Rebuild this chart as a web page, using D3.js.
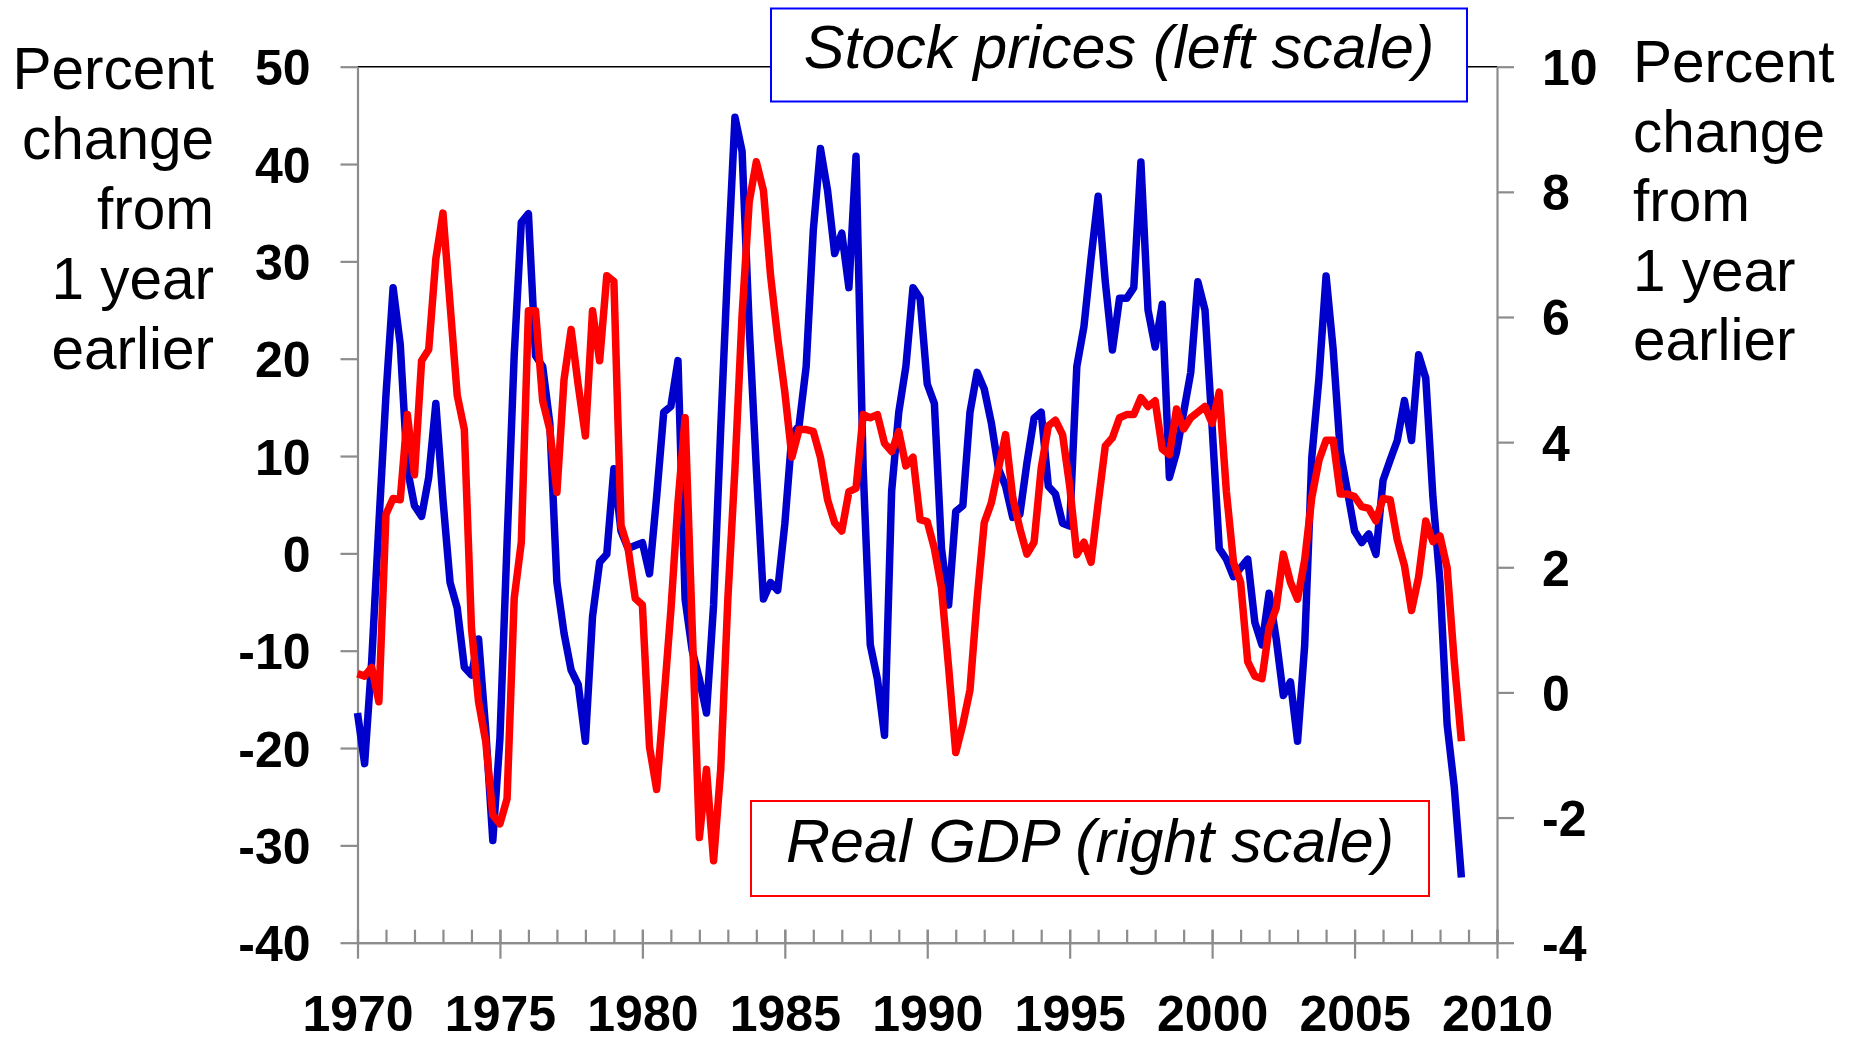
<!DOCTYPE html>
<html>
<head>
<meta charset="utf-8">
<script src="https://cdn.jsdelivr.net/npm/d3@7"></script>
<style>
  body { margin: 0; background: #fff; }
  svg { display: block; font-family: "Liberation Sans", Arial, sans-serif; }
</style>
</head>
<body>
<svg width="1854" height="1043"></svg>
<script>
// quarterly data, percent change from 1 year earlier
// first value is 1970 Q1, one value per quarter
const firstYear = 1970;

const stockPrices = [
  -16.4, -21.6, -11.0, 3.0,   16.3, 27.3, 21.5, 8.7,
  4.9, 3.8, 7.8, 15.4,        5.5, -3.0, -5.6, -11.7,
  -12.5, -8.8, -18.1, -29.5,  -19.0, 1.1, 20.3, 34.0,
  34.9, 20.3, 19.2, 13.4,     -3.0, -8.2, -12.0, -13.5,
  -19.3, -6.5, -0.9, -0.1,    8.7, 2.3, 0.5, 0.8,
  1.1, -2.1, 5.8, 14.5,       15.1, 19.8, -4.7, -10.0,
  -12.9, -16.4, -5.3, 12.8,   29.7, 44.8, 41.3, 23.3,
  8.7, -4.7, -3.0, -3.8,      3.0, 12.2, 13.1, 19.2,
  33.2, 41.6, 37.3, 30.8,     32.9, 27.3, 40.8, 8.7,
  -9.4, -12.9, -18.7, 6.4,    14.5, 19.2, 27.3, 26.2,
  17.4, 15.4, 0.5, -5.3,      4.3, 4.9, 14.5, 18.6,
  16.9, 13.4, 8.7, 6.9,       3.7, 4.0, 9.3, 13.9,
  14.5, 6.9, 6.1, 3.1,        2.8, 19.2, 23.3, 30.3,
  36.7, 27.9, 20.9, 26.2,     26.2, 27.3, 40.2, 25.0,
  21.2, 25.6, 7.8, 10.4,      14.5, 18.6, 27.9, 25.0,
  13.0, 0.5, -0.6, -2.4,      -1.5, -0.6, -7.1, -9.4,
  -4.1, -8.8, -14.6, -13.2,   -19.3, -9.4, 9.9, 18.0,
  28.5, 20.9, 10.4, 6.4,      2.3, 1.1, 2.0, -0.1,
  7.5, 9.6, 11.6, 15.7,       11.6, 20.4, 18.0, 5.8,
  -3.0, -17.6, -24.0, -33.3
];

const realGDP = [
  0.3, 0.26, 0.4, -0.15,      2.85, 3.1, 3.08, 4.44,
  3.48, 5.3, 5.48, 6.93,      7.66, 6.2, 4.75, 4.2,
  1.03, -0.15, -0.78, -1.96,  -2.1, -1.7, 1.5, 2.4,
  6.1, 6.1, 4.66, 4.2,        3.2, 5.0, 5.8, 4.9,
  4.1, 6.1, 5.3, 6.66,        6.57, 2.67, 2.3, 1.5,
  1.4, -0.87, -1.55, -0.15,   1.31, 3.03, 4.39, 1.03,
  -2.32, -1.23, -2.69, -1.23, 1.49, 3.58, 6.03, 7.84,
  8.48, 8.02, 6.66, 5.66,     4.8, 3.76, 4.2, 4.2,
  4.17, 3.76, 3.08, 2.71,     2.58, 3.21, 3.26, 4.44,
  4.39, 4.44, 3.98, 3.85,     4.17, 3.62, 3.76, 2.76,
  2.73, 2.3, 1.67, 0.4,       -0.96, -0.51, 0.04, 1.49,
  2.71, 3.03, 3.58, 4.12,     3.12, 2.62, 2.21, 2.4,
  3.58, 4.26, 4.35, 4.12,     3.3, 2.2, 2.4, 2.08,
  3.03, 3.94, 4.07, 4.39,     4.44, 4.44, 4.71, 4.57,
  4.66, 3.89, 3.8, 4.53,      4.21, 4.39, 4.48, 4.57,
  4.3, 4.8, 3.21, 2.08,       1.76, 0.49, 0.26, 0.22,
  1.03, 1.35, 2.21, 1.76,     1.49, 2.12, 3.12, 3.71,
  4.03, 4.03, 3.17, 3.17,     3.13, 2.97, 2.94, 2.74,
  3.1, 3.08, 2.44, 2.03,      1.31, 1.85, 2.74, 2.41,
  2.5, 1.99, 0.49, -0.78
];

const leftTicks = [50, 40, 30, 20, 10, 0, -10, -20, -30, -40];
const rightTicks = [10, 8, 6, 4, 2, 0, -2, -4];
const yearTicks = [1970, 1975, 1980, 1985, 1990, 1995, 2000, 2005, 2010];

const titleLines = ["Percent", "change", "from", "1 year", "earlier"];
const stockLabel = "Stock prices (left scale)";
const gdpLabel = "Real GDP (right scale)";

const svg = d3.select("svg");

const plot = { left: 357.5, right: 1497, top: 66.7, bottom: 942.7 };

const x = d3.scaleLinear().domain([1970, 2010]).range([plot.left, plot.right]);
const yLeft = d3.scaleLinear().domain([-40, 50]).range([plot.bottom, plot.top]);
const yRight = d3.scaleLinear().domain([-4, 10]).range([plot.bottom, plot.top]);

const axisGray = "#8c8c8c";
// plain hyphen for negatives, like the original
const plainNumber = d => String(d);

drawFrame();
drawAxes();
drawLines();
drawLegends();
drawTitles();

function drawFrame() {
  // black top edge of the plot area
  svg.append("line")
    .attr("x1", plot.left).attr("x2", plot.right)
    .attr("y1", plot.top).attr("y2", plot.top)
    .attr("stroke", "#000")
    .attr("stroke-width", 1.6);
}

function styleAxis(g) {
  g.select(".domain").attr("stroke", axisGray).attr("stroke-width", 2.2);
  g.selectAll(".tick line").attr("stroke", axisGray).attr("stroke-width", 2.2);
  g.selectAll(".tick text")
    .attr("fill", "#000")
    .style("font-size", "50px")
    .style("font-weight", "bold");
}

function drawAxes() {
  // left scale, stock prices
  svg.append("g")
    .attr("transform", `translate(${plot.left},0)`)
    .call(d3.axisLeft(yLeft).tickValues(leftTicks).tickFormat(plainNumber)
      .tickSize(17).tickSizeOuter(0).tickPadding(30))
    .call(styleAxis)
    .selectAll(".tick text").attr("dy", "0.36em");

  // right scale, real gdp
  svg.append("g")
    .attr("transform", `translate(${plot.right},0)`)
    .call(d3.axisRight(yRight).tickValues(rightTicks).tickFormat(plainNumber)
      .tickSize(17).tickSizeOuter(0).tickPadding(28))
    .call(styleAxis)
    .selectAll(".tick text").attr("dy", "0.36em");

  // minor year ticks point up into the plot
  svg.append("g")
    .attr("transform", `translate(0,${plot.bottom})`)
    .call(d3.axisTop(x).tickValues(d3.range(1970, 2011)).tickSize(13).tickSizeOuter(0).tickFormat(""))
    .call(styleAxis);

  // major year ticks cross the axis
  const xAxis = svg.append("g")
    .attr("transform", `translate(0,${plot.bottom})`)
    .call(d3.axisBottom(x).tickValues(yearTicks).tickSize(16).tickSizeOuter(0).tickFormat(plainNumber))
    .call(styleAxis);

  xAxis.selectAll(".tick line").attr("y1", -13);
  // keep the labels clear of the bottom edge
  xAxis.selectAll(".tick text")
    .attr("y", 88)
    .attr("dy", 0)
    .style("font-size", "50px");
}

function drawLines() {
  const stockLine = d3.line()
    .x((d, i) => x(firstYear + i / 4))
    .y(d => yLeft(d));

  const gdpLine = d3.line()
    .x((d, i) => x(firstYear + i / 4))
    .y(d => yRight(d));

  svg.append("path")
    .datum(stockPrices)
    .attr("d", stockLine)
    .attr("fill", "none")
    .attr("stroke", "#0000cc")
    .attr("stroke-width", 7.5)
    .attr("stroke-linejoin", "round");

  svg.append("path")
    .datum(realGDP)
    .attr("d", gdpLine)
    .attr("fill", "none")
    .attr("stroke", "#ff0000")
    .attr("stroke-width", 7.5)
    .attr("stroke-linejoin", "round");
}

function drawLegends() {
  const boxes = [
    { label: stockLabel, color: "#0000ff", x0: 771, x1: 1467, y0: 8.5, y1: 101.5, base: 68 },
    { label: gdpLabel, color: "#ff0000", x0: 751, x1: 1429, y0: 801, y1: 896, base: 862 }
  ];

  const g = svg.selectAll("g.legend")
    .data(boxes)
    .enter()
    .append("g")
    .attr("class", "legend");

  g.append("rect")
    .attr("x", d => d.x0)
    .attr("y", d => d.y0)
    .attr("width", d => d.x1 - d.x0)
    .attr("height", d => d.y1 - d.y0)
    .attr("fill", "#fff")
    .attr("stroke", d => d.color)
    .attr("stroke-width", 2);

  g.append("text")
    .attr("x", d => (d.x0 + d.x1) / 2)
    .attr("y", d => d.base)
    .attr("text-anchor", "middle")
    .style("font-size", "61px")
    .style("font-style", "italic")
    .text(d => d.label);
}

function drawTitles() {
  // left axis title, right aligned
  svg.append("text")
    .attr("text-anchor", "end")
    .style("font-size", "58.5px")
    .selectAll("tspan")
    .data(titleLines)
    .enter()
    .append("tspan")
    .attr("x", 214)
    .attr("y", (d, i) => 89 + i * 70)
    .text(d => d);

  // right axis title, left aligned
  svg.append("text")
    .attr("text-anchor", "start")
    .style("font-size", "58.5px")
    .selectAll("tspan")
    .data(titleLines)
    .enter()
    .append("tspan")
    .attr("x", 1633)
    .attr("y", (d, i) => 82 + i * 69.5)
    .text(d => d);
}
</script>
</body>
</html>
